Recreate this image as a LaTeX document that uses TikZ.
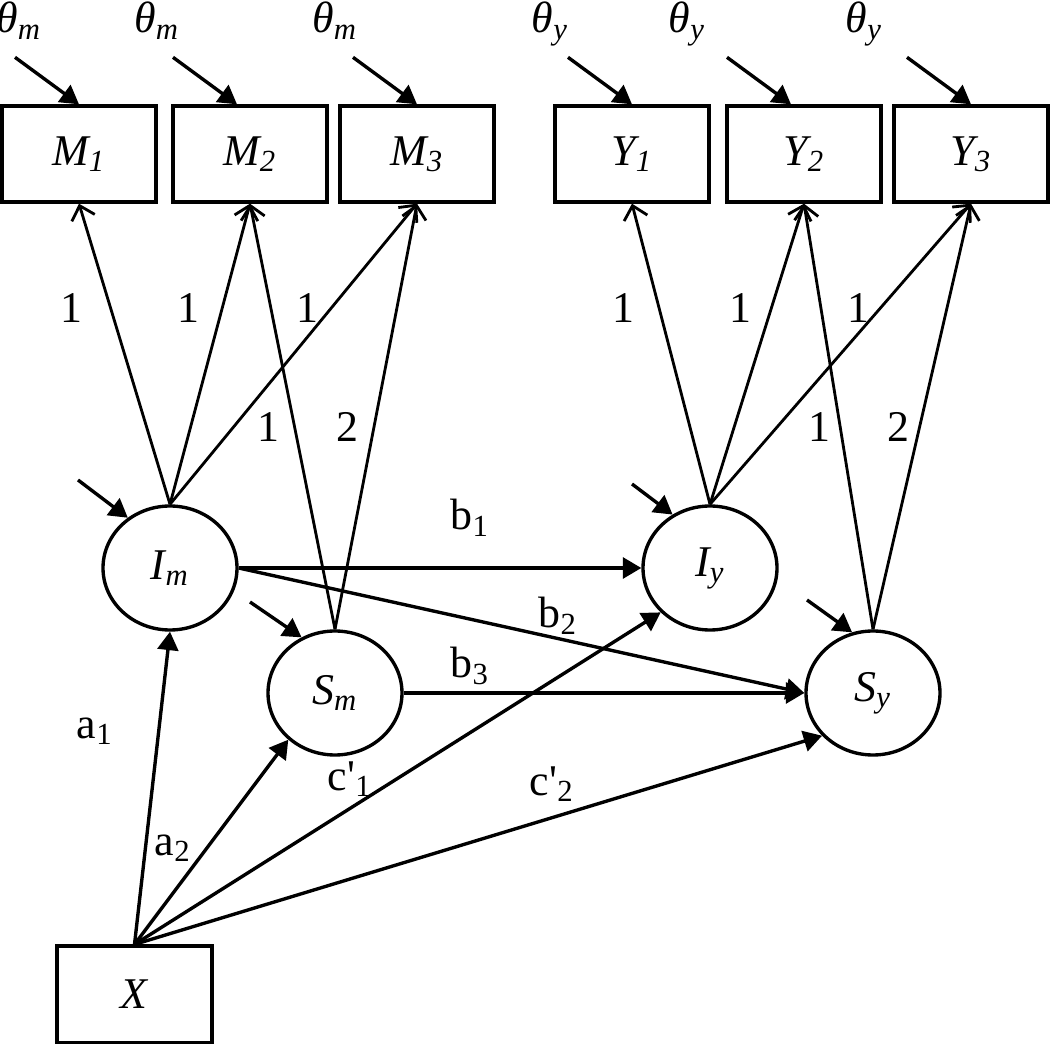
\documentclass[tikz,border=0pt]{standalone}
\usepackage{fontspec}
\setmainfont{Liberation Serif}
\usetikzlibrary{arrows.meta,shapes.geometric}

\begin{document}
\begin{tikzpicture}[x=0.125mm, y=-0.125mm,
                    every node/.style={font=\fontsize{15.6}{18}\selectfont},
                    obs/.style={draw, line width=1.2pt, rectangle, minimum width=19.25mm, minimum height=12mm},
                    lat/.style={draw, line width=1.2pt, ellipse, inner sep=0pt, minimum width=16.75mm, minimum height=15.5mm},
                    lbl/.style={anchor=base, inner sep=0pt},
                    load/.style={line width=1pt, -{Straight Barb[length=1.6mm,width=3mm,line width=1pt]}},
                    reg/.style={line width=1.2pt, -{Triangle[length=2.3mm,width=2.6mm]}},
                    resid/.style={line width=1.2pt, -{Triangle[length=2.3mm,width=2.6mm]}}]

\useasboundingbox (0,0) rectangle (1050,1044);

% Indicators
\foreach \v/\i/\x in {M/1/79, M/2/250, M/3/417, Y/1/632, Y/2/804, Y/3/971} {
    \node[obs] (\v\i) at (\x,154) {\textit{\v\textsubscript{\i}}};
}

% Measurement errors
\node[lbl] (thM1) at (19,33) {\textit{θ\textsubscript{m}}};
\node[lbl] (thM2) at (157,33) {\textit{θ\textsubscript{m}}};
\node[lbl] (thM3) at (335,33) {\textit{θ\textsubscript{m}}};
\node[lbl] (thY1) at (550,33) {\textit{θ\textsubscript{y}}};
\node[lbl] (thY2) at (687,33) {\textit{θ\textsubscript{y}}};
\node[lbl] (thY3) at (864,33) {\textit{θ\textsubscript{y}}};
\foreach \n/\dx in {M1/0, M2/-13, M3/0, Y1/0, Y2/-13, Y3/0} {
    \coordinate (e\n) at ([shift={(\dx-64,-47)}]\n.north);
    \draw[resid] (e\n) -- ([shift={(\dx,0)}]\n.north);
}

% Growth factors
\node[lat] (Im) at (170,568) {\textit{I\textsubscript{m}}};
\node[lat] (Sm) at (335,693) {\textit{S\textsubscript{m}}};
\node[lat] (Iy) at (710,568) {\textit{I\textsubscript{y}}};
\node[lat] (Sy) at (873,693) {\textit{S\textsubscript{y}}};

% Predictor
\node[obs, minimum width=19.4mm, minimum height=12.1mm] (X) at (134.5,994.5) {\textit{X}};

% Loadings, mediator
\draw[load] (Im.north) -- (M1.south);
\draw[load] (Im.north) -- (M2.south);
\draw[load] (Im.north) -- (M3.south);
\draw[load] (Sm.north) -- (M2.south);
\draw[load] (Sm.north) -- (M3.south);
\node[lbl] (lM1) at (71,323) {1};
\node[lbl] (lM2) at (188,323) {1};
\node[lbl] (lM3) at (307,323) {1};
\node[lbl] (sM2) at (268,442) {1};
\node[lbl] (sM3) at (347,442) {2};

% Loadings, outcome
\draw[load] (Iy.north) -- (Y1.south);
\draw[load] (Iy.north) -- (Y2.south);
\draw[load] (Iy.north) -- (Y3.south);
\draw[load] (Sy.north) -- (Y2.south);
\draw[load] (Sy.north) -- (Y3.south);
\node[lbl] (lY1) at (623,323) {1};
\node[lbl] (lY2) at (740,323) {1};
\node[lbl] (lY3) at (858,323) {1};
\node[lbl] (sY2) at (819,442) {1};
\node[lbl] (sY3) at (898,442) {2};

% Disturbances
\coordinate (dIm) at (78,480);
\coordinate (dSm) at (250,602);
\coordinate (dIy) at (632,484);
\coordinate (dSy) at (807,600);
\draw[resid] (dIm) -- (Im.130);
\draw[resid] (dSm) -- (Sm.121);
\draw[resid] (dIy) -- (Iy.125);
\draw[resid] (dSy) -- (Sy.109);

% Structural paths
\draw[reg] (X.north) -- (Im.south);
\draw[reg] (X.north) -- (Sm.225);
\draw[reg] (X.north) -- (Iy.222);
\draw[reg] (X.north) -- (Sy.220);
\draw[reg] (Im.east) -- (Iy.west);
\draw[reg] (Im.east) -- (Sy.west);
\draw[reg] (Sm.east) -- (Sy.west);

\node[lbl] (a1) at (95,738) {a\textsubscript{1}};
\node[lbl] (a2) at (173,855) {a\textsubscript{2}};
\node[lbl] (b1) at (470,530) {b\textsubscript{1}};
\node[lbl] (b2) at (558,628) {b\textsubscript{2}};
\node[lbl] (b3) at (470,678) {b\textsubscript{3}};
\node[lbl] (c1) at (350,790) {c\textquotesingle\textsubscript{1}};
\node[lbl] (c2) at (552,795) {c\textquotesingle\textsubscript{2}};

\end{tikzpicture}
\end{document}
